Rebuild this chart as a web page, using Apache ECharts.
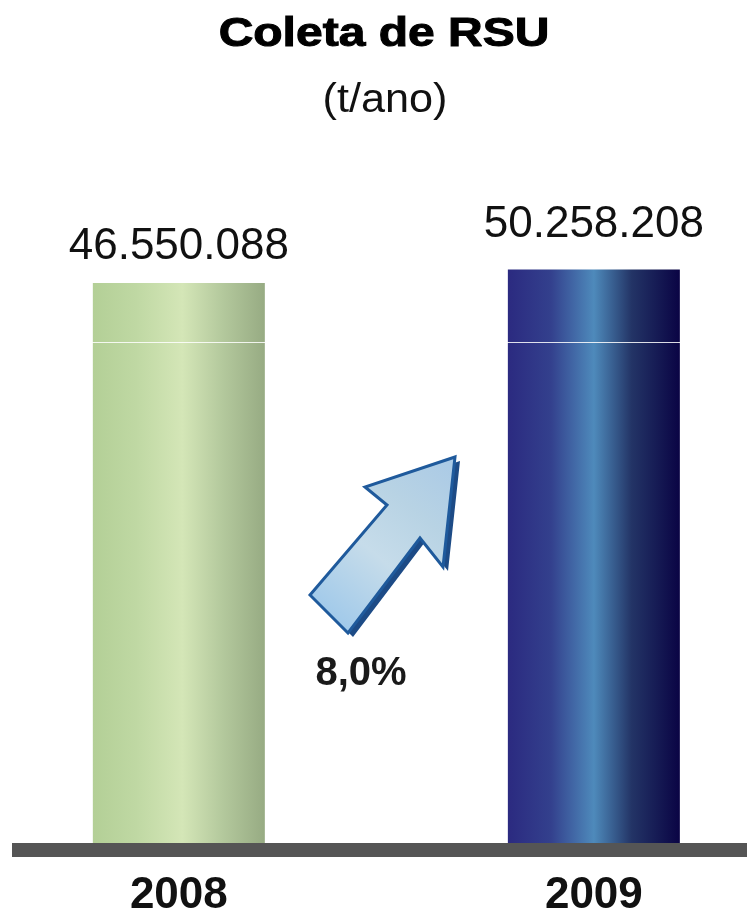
<!DOCTYPE html>
<html>
<head>
<meta charset="utf-8">
<script src="https://cdn.jsdelivr.net/npm/echarts@6/dist/echarts.min.js"></script>
<style>
html,body{margin:0;padding:0;background:#fff;}
#chart{width:747px;height:917px;}
</style>
</head>
<body>
<div id="chart"></div>
<script>
var years = [2008, 2009];
var values = [46550088, 50258208];
var valueLabels = ['46.550.088', '50.258.208'];
var growthLabel = '8,0%';
var titleText = 'Coleta de RSU';
var subtitleText = '(t/ano)';

var FONT = "'Liberation Sans', Arial, sans-serif";
var labelDistances = [14, 23];

var barGradients = [
  new echarts.graphic.LinearGradient(0, 0, 1, 0, [
    {offset: 0, color: '#b3cf96'},
    {offset: 0.25, color: '#bfd8a3'},
    {offset: 0.52, color: '#d4e6b7'},
    {offset: 0.75, color: '#b4c99d'},
    {offset: 1, color: '#97ab83'}
  ]),
  new echarts.graphic.LinearGradient(0, 0, 1, 0, [
    {offset: 0, color: '#2b2a80'},
    {offset: 0.25, color: '#33408d'},
    {offset: 0.5, color: '#4e8abb'},
    {offset: 0.72, color: '#233466'},
    {offset: 1, color: '#0a0444'}
  ])
];

var barData = years.map(function (y, i) {
  return {
    value: [y, values[i]],
    itemStyle: {color: barGradients[i]},
    label: {formatter: valueLabels[i], distance: labelDistances[i]}
  };
});

var chart = echarts.init(document.getElementById('chart'), null, {renderer: 'canvas'});

var arrowPts = [[310,595],[387,505],[365,487],[455,457],[443,567],[420,538],[348,633]];

chart.setOption({
  backgroundColor: '#ffffff',
  animation: false,
  grid: {left: 12, right: 0, top: 200, bottom: 74, containLabel: false, outerBoundsMode: 'none'},
  xAxis: {
    type: 'value',
    min: 2007.598,
    max: 2009.369,
    offset: 7,
    z: 5,
    axisLine: {show: true, lineStyle: {color: '#555555', width: 14, cap: 'butt'}},
    axisTick: {show: false},
    splitLine: {show: false},
    axisLabel: {
      customValues: years,
      formatter: function (v) { return String(v); },
      margin: 24,
      fontFamily: FONT,
      fontSize: 44,
      fontWeight: 'bold',
      color: '#111111'
    }
  },
  yAxis: {
    type: 'log',
    min: 1.94e6,
    max: 7.46e7,
    show: false,
    splitLine: {show: false}
  },
  series: [{
    type: 'bar',
    data: barData,
    barWidth: 172,
    clip: true,
    label: {
      show: true,
      position: 'top',
      fontFamily: FONT,
      fontSize: 44,
      color: '#111111'
    },
    markLine: {
      silent: true,
      symbol: 'none',
      label: {show: false},
      lineStyle: {color: 'rgba(255,255,255,0.85)', width: 1, type: 'solid'},
      data: [{yAxis: 3.33e7}]
    }
  }],
  graphic: [
    {
      type: 'text', x: 384, y: 35, scaleX: 1.2, z: 10,
      style: {text: titleText, x: 0, y: 0, textAlign: 'center', textVerticalAlign: 'middle',
              font: 'bold 40px ' + FONT, fill: '#000000', stroke: '#000000', lineWidth: 1}
    },
    {
      type: 'text', x: 385, y: 101, scaleX: 1.08, z: 10,
      style: {text: subtitleText, x: 0, y: 0, textAlign: 'center', textVerticalAlign: 'middle',
              font: '40px ' + FONT, fill: '#111111'}
    },
    {
      type: 'polygon', x: 5, y: 4, z: 8,
      shape: {points: arrowPts},
      style: {fill: '#1d4b86'}
    },
    {
      type: 'polygon', z: 9,
      shape: {points: arrowPts},
      style: {
        fill: new echarts.graphic.LinearGradient(0, 1, 1, 0, [
          {offset: 0, color: '#94c3ea'},
          {offset: 0.45, color: '#c6dcea'},
          {offset: 0.7, color: '#b8d3e4'},
          {offset: 1, color: '#a9c9e6'}
        ]),
        stroke: '#1f5a9c',
        lineWidth: 3,
        lineJoin: 'miter'
      }
    },
    {
      type: 'text', x: 361, y: 674, z: 10,
      style: {text: growthLabel, x: 0, y: 0, textAlign: 'center', textVerticalAlign: 'middle',
              font: 'bold 40px ' + FONT, fill: '#1a1a1a'}
    }
  ]
});
</script>
</body>
</html>
